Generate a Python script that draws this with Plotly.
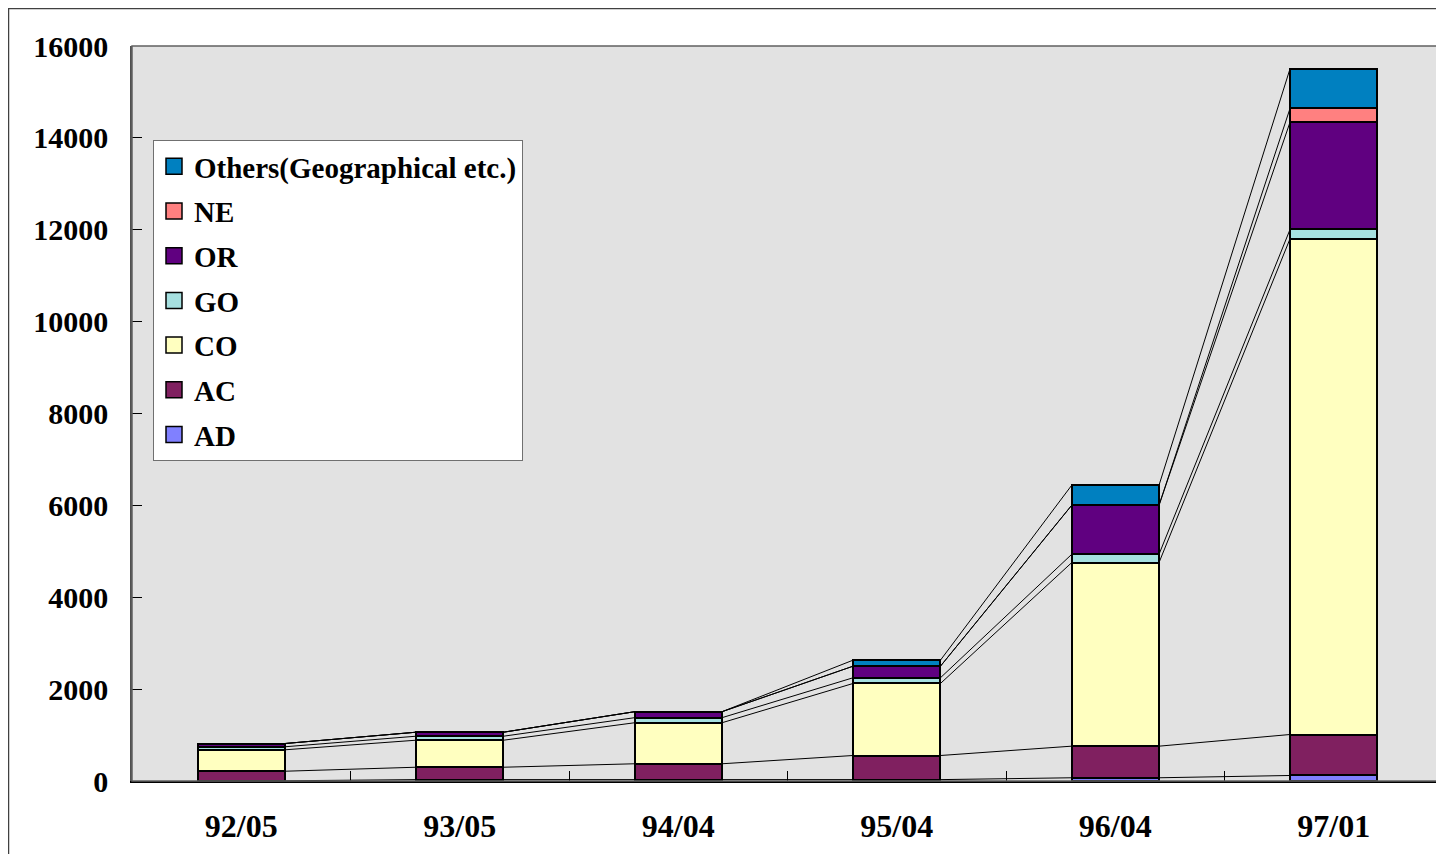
import plotly.graph_objects as go

categories = ["92/05", "93/05", "94/04", "95/04", "96/04", "97/01"]
series_names = ["AD", "AC", "CO", "GO", "OR", "NE", "Others(Geographical etc.)"]
AD = [5, 30, 30, 30, 70, 120]
AC = [208, 270, 345, 525, 688, 892]
CO = [466, 588, 893, 1568, 3993, 10793]
GO = [66, 87, 110, 124, 180, 202]
OR = [71, 87, 130, 252, 1067, 2336]
NE = [0, 0, 0, 0, 0, 299]
Others = [0, 0, 0, 131, 436, 864]
values = [AD, AC, CO, GO, OR, NE, Others]
colors = ["#8080FF", "#802060", "#FFFFC0", "#A6E0E0", "#600080", "#FF8080", "#0080C0"]
yticks = [0, 2000, 4000, 6000, 8000, 10000, 12000, 14000, 16000]

FONT = "Liberation Serif, Times New Roman, serif"
BAR_W = 0.40
xs = list(range(len(categories)))

fig = go.Figure()

# legend entries first (top to bottom as in the reference)
for name, col in reversed(list(zip(series_names, colors))):
    fig.add_trace(go.Scatter(x=[None], y=[None], mode="markers", name=name, legendgroup=name,
                             marker=dict(symbol="square", size=16, color=col,
                                         line=dict(color="black", width=1.5))))

# series lines connecting the tops of each stacked segment
cum = [0] * len(categories)
for vals in values:
    cum = [c + v for c, v in zip(cum, vals)]
    lx, ly = [], []
    for i in range(len(categories) - 1):
        lx += [xs[i] + BAR_W / 2, xs[i + 1] - BAR_W / 2, None]
        ly += [cum[i], cum[i + 1], None]
    fig.add_trace(go.Scatter(x=lx, y=ly, mode="lines", line=dict(color="black", width=1),
                             showlegend=False, hoverinfo="skip"))

for name, vals, col in zip(series_names, values, colors):
    fig.add_trace(go.Bar(x=xs, y=vals, name=name, width=BAR_W,
                         marker=dict(color=col, line=dict(color="black", width=2)),
                         showlegend=False))

# page body has an 8px margin: work in page pixels and shift
OFF = 8
PL, PR, PT, PB = 132 - OFF, 1443 - OFF, 46 - OFF, 781.5 - OFF
W, H = 1444 - OFF, 854 - OFF
pw, ph = PR - PL, PB - PT

def px2paper_x(p):
    return (p - OFF - PL) / pw

def px2paper_y(p):
    return (PB - (p - OFF)) / ph

fig.update_layout(
    width=W, height=H,
    margin=dict(l=PL, r=W - PR, t=PT, b=H - PB, pad=0),
    paper_bgcolor="white",
    plot_bgcolor="#E2E2E2",
    barmode="stack",
    font=dict(family=FONT, size=30, color="black", weight="bold"),
    showlegend=True,
    legend=dict(x=px2paper_x(153), y=px2paper_y(140), xanchor="left", yanchor="top",
                bgcolor="white", bordercolor="#707070", borderwidth=1,
                traceorder="grouped", tracegroupgap=4,
                font=dict(family=FONT, size=29, color="black", weight="bold"),
                itemsizing="trace"),
    xaxis=dict(range=[-0.5, len(categories) - 0.5], tickmode="array", tickvals=xs,
               ticktext=categories, ticks="", showgrid=False, zeroline=False,
               showline=True, linecolor="black", linewidth=2,
               ticklabelstandoff=16,
               tickfont=dict(family=FONT, size=32, color="black", weight="bold")),
    yaxis=dict(range=[0, 16000], tickmode="array", tickvals=yticks,
               ticktext=[str(t) for t in yticks], ticks="inside", ticklen=10,
               tickcolor="black", tickwidth=1, showgrid=False, zeroline=False,
               showline=True, linecolor="#505050", linewidth=1.5,
               ticklabelstandoff=16,
               tickfont=dict(family=FONT, size=30, color="black", weight="bold")),
    shapes=[
        dict(type="rect", xref="paper", yref="paper", x0=0, x1=1, y0=0, y1=1,
             line=dict(color="#606060", width=1.5), layer="above"),
        dict(type="rect", xref="paper", yref="paper",
             x0=px2paper_x(8.5), x1=px2paper_x(1470), y0=px2paper_y(880), y1=px2paper_y(8.5),
             line=dict(color="#404040", width=1.5)),
    ],
)
fig.update_xaxes(minor=dict(tickvals=[i + 0.5 for i in xs[:-1]], ticks="inside", ticklen=10,
                            tickcolor="black", tickwidth=1, showgrid=False))

fig.write_html("out.html")
